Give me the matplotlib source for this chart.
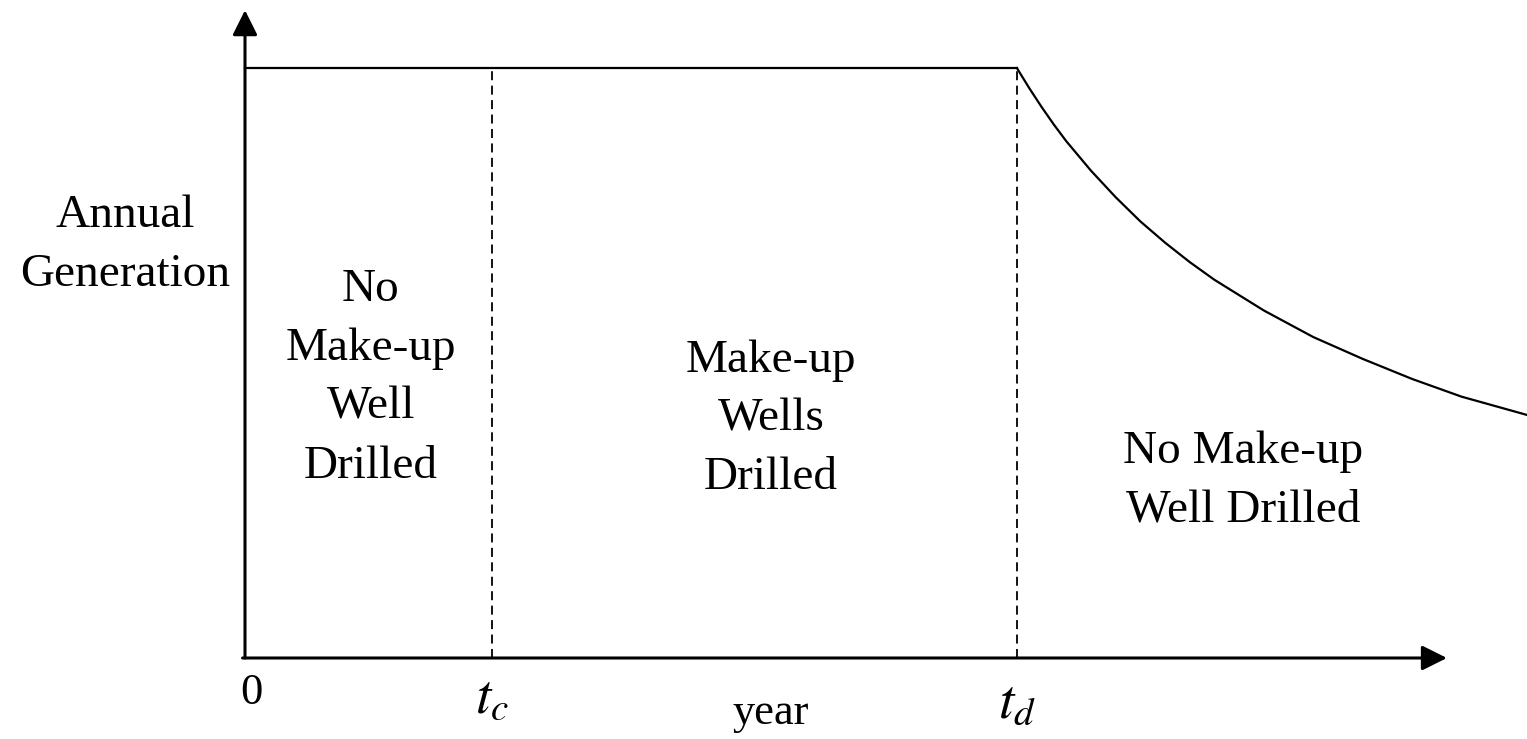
import matplotlib.pyplot as plt
import numpy as np

##### DATA
# key times (years) on the x axis
t_c = 10.0
t_d = 31.25

# constant generation level before t_d
gen_level = 1.0

# decline after t_d
decline_t = [31.25, 31.75, 32.25, 32.75, 33.25, 34.25, 35.25, 36.25, 37.25,
             38.25, 39.25, 41.25, 43.25, 45.25, 47.25, 49.25, 51.90]
decline_g = [1.000, 0.966, 0.934, 0.904, 0.876, 0.826, 0.781, 0.740, 0.704,
             0.671, 0.641, 0.589, 0.544, 0.507, 0.473, 0.443, 0.412]

tick_pos = [0.25, t_c, 21.3, t_d]
tick_y = [-0.0780, -0.0932, -0.1119, -0.1017]
tick_lab = ["0", "$t_c$", "year", "$t_d$"]
tick_size = [32, 40, 32, 40]

region_x = [5.1, 21.3, 40.4]
region_y = [0.474, 0.405, 0.300]
region_lab = ["No\nMake-up\nWell\nDrilled", "Make-up\nWells\nDrilled",
              "No Make-up\nWell Drilled"]

##### PLOTTING
plt.rcParams['font.family'] = ['Liberation Serif', 'DejaVu Serif']
plt.rcParams['mathtext.fontset'] = 'stix'

fig = plt.figure(figsize=(15.27, 7.39), dpi=100)
ax = fig.add_axes([0, 0, 1, 1])
ax.set_xlim(-9.919, 51.903)
ax.set_ylim(-0.1373, 1.1153)
ax.axis('off')

# axes with arrow heads
arr = dict(arrowstyle='-|>', color='black', lw=2.2, mutation_scale=38,
           shrinkA=0, shrinkB=0)
ax.annotate('', xy=(0, 1.098), xytext=(0, 0), arrowprops=arr)
ax.annotate('', xy=(48.66, 0), xytext=(-0.1, 0), arrowprops=arr)

# generation curve
ax.plot([0, t_d], [gen_level, gen_level], color='black', lw=1.6)
ax.plot(decline_t, decline_g, color='black', lw=1.6)

# dashed markers for t_c and t_d
for t in [t_c, t_d]:
    ax.plot([t, t], [0, gen_level], color='black', lw=1.3, ls=(0, (5, 3)))

# labels
for x, y, lab, s in zip(tick_pos, tick_y, tick_lab, tick_size):
    ax.text(x, y, lab, ha='center', va='baseline', fontsize=s)

for x, y, lab in zip(region_x, region_y, region_lab):
    ax.text(x, y, lab, ha='center', va='center', fontsize=34, linespacing=1.5)

ax.text(-4.85, 0.700, "Annual\nGeneration", ha='center', va='center',
        fontsize=34, linespacing=1.5)

fig.savefig("out.png", dpi=100)
